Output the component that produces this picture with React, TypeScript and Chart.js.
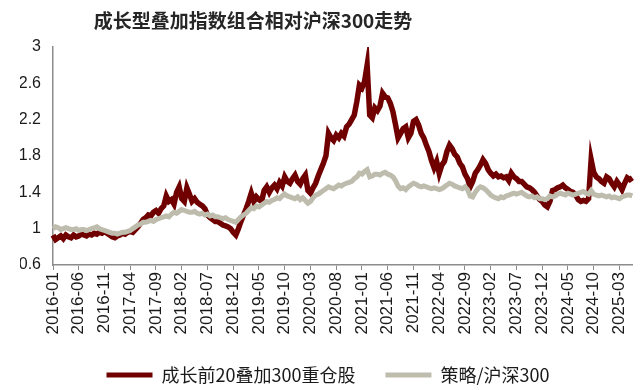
import React, { useEffect, useRef } from "react";
import { Chart, registerables } from "chart.js";

Chart.register(...registerables);

const TITLE = "成长型叠加指数组合相对沪深300走势";
const SERIES_NAMES = ["成长前20叠加300重仓股", "策略/沪深300"];
const START_YEAR = 2016;
const MONTH_COUNT = 113; // 2016-01 .. 2025-05, two points per month
const Y_TICKS = [0.6, 1, 1.4, 1.8, 2.2, 2.6, 3];

const growthTop20 = [
  0.93,0.88, 0.90,0.92, 0.89,0.93, 0.91,0.90, 0.93,0.91,
  0.92,0.94, 0.93,0.92, 0.94,0.93, 0.95,0.94, 0.96,0.95,
  0.97,0.95, 0.93,0.91, 0.90,0.92, 0.93,0.95, 0.94,0.96,
  0.97,0.96, 0.99,1.02, 1.06,1.10, 1.12,1.15, 1.14,1.18,
  1.20,1.17, 1.22,1.25, 1.36,1.30, 1.32,1.27, 1.40,1.46,
  1.33,1.30, 1.45,1.38, 1.30,1.33, 1.29,1.27, 1.25,1.22,
  1.15,1.12, 1.10,1.08, 1.08,1.06, 1.04,1.03, 1.02,1.00,
  0.96,0.93, 1.00,1.08, 1.15,1.22, 1.30,1.39, 1.30,1.35,
  1.32,1.30, 1.42,1.46, 1.40,1.45, 1.48,1.44, 1.51,1.47,
  1.57,1.52, 1.50,1.55, 1.59,1.52, 1.49,1.55, 1.59,1.42,
  1.39,1.45, 1.50,1.58, 1.65,1.72, 1.80,2.05, 2.00,1.97,
  2.03,2.00, 2.05,2.02, 2.12,2.15, 2.20,2.25, 2.40,2.58,
  2.55,2.62, 2.80,2.25, 2.22,2.33, 2.30,2.35, 2.49,2.45,
  2.44,2.38, 2.29,2.15, 2.00,2.05, 2.10,2.12, 2.00,2.05,
  2.18,2.20, 2.14,2.05, 2.00,1.92, 1.85,1.75, 1.67,1.74,
  1.61,1.70, 1.74,1.85, 1.92,1.88, 1.82,1.79, 1.72,1.68,
  1.60,1.55, 1.46,1.52, 1.61,1.65, 1.70,1.76, 1.72,1.65,
  1.61,1.58, 1.60,1.57, 1.58,1.56, 1.57,1.53, 1.61,1.57,
  1.55,1.52, 1.52,1.49, 1.46,1.45, 1.43,1.40, 1.36,1.32,
  1.30,1.26, 1.24,1.30, 1.42,1.43, 1.45,1.46, 1.48,1.45,
  1.43,1.41, 1.40,1.37, 1.32,1.30, 1.31,1.30, 1.33,1.76,
  1.62,1.57, 1.55,1.52, 1.50,1.57, 1.55,1.50, 1.46,1.52,
  1.48,1.43, 1.50,1.56, 1.54,1.56,
];

const strategyVsHs300 = [
  1.00,1.02, 1.01,0.99, 1.00,1.01, 1.00,0.99, 0.99,1.00,
  0.98,0.99, 0.99,0.98, 0.99,1.00, 1.01,1.02, 1.00,0.99,
  0.98,0.97, 0.96,0.95, 0.95,0.94, 0.95,0.96, 0.96,0.97,
  0.98,1.00, 1.02,1.04, 1.05,1.07, 1.07,1.08, 1.09,1.08,
  1.10,1.11, 1.12,1.13, 1.14,1.13, 1.16,1.18, 1.17,1.19,
  1.21,1.20, 1.19,1.18, 1.18,1.19, 1.17,1.16, 1.17,1.15,
  1.16,1.14, 1.15,1.13, 1.13,1.12, 1.11,1.12, 1.10,1.09,
  1.08,1.07, 1.10,1.13, 1.15,1.17, 1.20,1.23, 1.22,1.25,
  1.24,1.26, 1.28,1.30, 1.29,1.31, 1.32,1.34, 1.33,1.36,
  1.38,1.36, 1.35,1.34, 1.33,1.35, 1.32,1.34, 1.31,1.28,
  1.30,1.34, 1.37,1.38, 1.40,1.42, 1.44,1.46, 1.45,1.44,
  1.46,1.48, 1.47,1.49, 1.50,1.51, 1.52,1.55, 1.57,1.61,
  1.60,1.63, 1.65,1.57, 1.58,1.60, 1.60,1.59, 1.61,1.62,
  1.60,1.59, 1.57,1.53, 1.47,1.44, 1.45,1.43, 1.46,1.48,
  1.50,1.49, 1.47,1.46, 1.47,1.46, 1.45,1.44, 1.45,1.44,
  1.43,1.44, 1.46,1.48, 1.50,1.49, 1.47,1.46, 1.45,1.44,
  1.46,1.43, 1.36,1.35, 1.40,1.44, 1.46,1.45, 1.43,1.40,
  1.37,1.35, 1.34,1.33, 1.35,1.34, 1.36,1.37, 1.38,1.39,
  1.38,1.39, 1.40,1.38, 1.36,1.35, 1.36,1.34, 1.35,1.33,
  1.33,1.32, 1.33,1.36, 1.35,1.36, 1.38,1.39, 1.38,1.37,
  1.39,1.38, 1.37,1.38, 1.39,1.40, 1.41,1.39, 1.38,1.42,
  1.38,1.37, 1.36,1.37, 1.36,1.35, 1.36,1.34, 1.35,1.34,
  1.33,1.35, 1.36,1.37, 1.37,1.36,
];

// category labels: each month appears twice (two observations per month)
const dateLabels: string[] = [];
for (let m = 0; m < MONTH_COUNT; m++) {
  const y = START_YEAR + Math.floor(m / 12);
  const mm = String((m % 12) + 1).padStart(2, "0");
  dateLabels.push(`${y}-${mm}`, `${y}-${mm}`);
}

const RED = "#700000";
const GRAY = "#BDBCAD";
const SANS = "'Liberation Sans', Arial, 'Noto Sans CJK SC', sans-serif";

const titlePlugin = {
  id: "customTitle",
  afterDraw(chart: any) {
    const ctx = chart.ctx;
    ctx.save();
    ctx.font = `bold 19px 'Noto Sans CJK SC', sans-serif`;
    ctx.fillStyle = "#262626";
    ctx.textAlign = "center";
    ctx.textBaseline = "middle";
    ctx.fillText(TITLE, 253, 21);
    ctx.restore();
  },
};

const legendHeightPlugin = {
  id: "legendHeight",
  beforeInit(chart: any) {
    const orig = chart.legend.fit;
    chart.legend.fit = function () {
      orig.bind(chart.legend)();
      this.height = 54;
    };
  },
};

export default function App() {
  const ref = useRef<HTMLCanvasElement | null>(null);
  useEffect(() => {
    document.body.style.margin = "0";
    const canvas = ref.current;
    if (!canvas) return;
    const chart = new Chart(canvas, {
      type: "line",
      data: {
        labels: dateLabels,
        datasets: [
          {
            label: SERIES_NAMES[0],
            data: growthTop20,
            borderColor: RED,
            backgroundColor: RED,
            borderWidth: 5.5,
            pointRadius: 0,
            tension: 0,
            order: 1,
          },
          {
            label: SERIES_NAMES[1],
            data: strategyVsHs300,
            borderColor: GRAY,
            backgroundColor: GRAY,
            borderWidth: 5,
            pointRadius: 0,
            tension: 0,
            order: 0,
          },
        ],
      },
      options: {
        animation: false,
        responsive: false,
        layout: { padding: { top: 47, right: 6, left: 20, bottom: 0 } },
        plugins: {
          title: { display: false },
          tooltip: { enabled: false },
          legend: {
            position: "bottom",
            labels: {
              boxWidth: 46,
              boxHeight: 5,
              padding: 30,
              color: "#1a1a1a",
              font: { size: 18, family: "'Noto Sans CJK SC', sans-serif" },
              sort: (a: any, b: any) => a.datasetIndex - b.datasetIndex,
              generateLabels: (c: any) =>
                Chart.defaults.plugins.legend.labels
                  .generateLabels(c)
                  .map((l: any) => ({ ...l, lineWidth: 0 })),
            },
          },
        },
        scales: {
          x: {
            type: "category",
            offset: false,
            grid: {
              display: true,
              drawOnChartArea: false,
              drawTicks: true,
              tickLength: 5,
              color: "#8c8c8c",
            },
            border: { display: true, color: "#8c8c8c", width: 1.5 },
            ticks: {
              autoSkip: false,
              minRotation: 90,
              maxRotation: 90,
              padding: 2,
              color: "#1a1a1a",
              font: { size: 17, family: SANS },
              callback: (_v: any, i: number) => (i % 10 === 0 ? dateLabels[i] : null),
            },
            afterFit: (s: any) => {
              s.height = 71;
            },
          },
          y: {
            type: "linear",
            min: 0.6,
            max: 3,
            grid: { display: false, drawTicks: false },
            border: { display: true, color: "#8c8c8c", width: 1.5 },
            afterBuildTicks: (s: any) => {
              s.ticks = Y_TICKS.map((v) => ({ value: v }));
            },
            ticks: {
              padding: 12,
              color: "#1a1a1a",
              font: { size: 16, family: SANS },
              callback: (v: any) => String(v),
            },
            afterFit: (s: any) => {
              s.width = 33;
            },
          },
        },
      },
      plugins: [titlePlugin, legendHeightPlugin],
    });
    return () => chart.destroy();
  }, []);
  return (
    <div style={{ width: 642, height: 390, background: "#fff" }}>
      <canvas ref={ref} width={642} height={390} style={{ display: "block" }} />
    </div>
  );
}
